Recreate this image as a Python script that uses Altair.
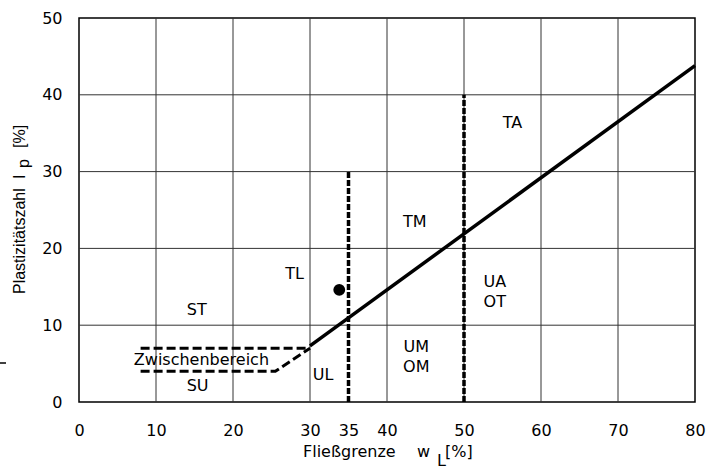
import altair as alt
import pandas as pd

# axis ticks / grid
x_ticks = [0, 10, 20, 30, 35, 40, 50, 60, 70, 80]
y_ticks = [0, 10, 20, 30, 40, 50]
grid_x = [10, 20, 30, 40, 50, 60, 70]
grid_y = [10, 20, 30, 40]

# A-line (solid)
a_x = [30, 80]
a_y = [7.3, 43.8]

# dashed boundaries
seg_id = ["up", "up", "low", "low", "low"]
seg_x = [8, 30, 8, 25.5, 30]
seg_y = [7.0, 7.0, 4.0, 4.0, 7.0]

vert_id = ["v35", "v35", "v50", "v50"]
vert_x = [35, 35, 50, 50]
vert_y = [0, 30, 0, 40]

# sample point
pt_x = [33.8]
pt_y = [14.6]

# region labels (centered)
lab_text = ["ST", "Zwischenbereich", "SU", "UL", "TL", "TM", "UM", "OM", "TA", "UA", "OT"]
lab_x = [15.3, 15.9, 15.4, 31.7, 28.0, 43.6, 43.8, 43.8, 56.3, 54.0, 54.0]
lab_y = [12.0, 5.5, 2.1, 3.5, 16.7, 23.4, 7.2, 4.5, 36.3, 15.6, 13.0]

FONT = "DejaVu Sans"

X = alt.X("x:Q", scale=alt.Scale(domain=[0, 80], nice=False, zero=False),
          axis=alt.Axis(values=x_ticks, grid=False, domain=False, ticks=False,
                        labelFont=FONT, labelFontSize=16, labelColor="black",
                        labelPadding=20, title=None, labelFlush=False))
Y = alt.Y("y:Q", scale=alt.Scale(domain=[0, 50], nice=False, zero=False),
          axis=alt.Axis(values=y_ticks, grid=False, domain=False, ticks=False,
                        labelFont=FONT, labelFontSize=16, labelColor="black",
                        labelPadding=17, title=None, labelFlush=False))

gx = alt.Chart(pd.DataFrame({"x": grid_x})).mark_rule(color="#333", strokeWidth=1).encode(x=X)
gy = alt.Chart(pd.DataFrame({"y": grid_y})).mark_rule(color="#333", strokeWidth=1).encode(y=Y)

aline = alt.Chart(pd.DataFrame({"x": a_x, "y": a_y})).mark_line(
    color="black", strokeWidth=3.5).encode(x=X, y=Y)

segs = alt.Chart(pd.DataFrame({"g": seg_id, "x": seg_x, "y": seg_y, "o": list(range(len(seg_x)))})).mark_line(
    color="black", strokeWidth=3, strokeDash=[9, 4]).encode(x=X, y=Y, detail="g:N", order="o:Q")

verts = alt.Chart(pd.DataFrame({"g": vert_id, "x": vert_x, "y": vert_y})).mark_line(
    color="black", strokeWidth=3.5, strokeDash=[6, 2]).encode(x=X, y=Y, detail="g:N")

point = alt.Chart(pd.DataFrame({"x": pt_x, "y": pt_y})).mark_point(
    filled=True, color="black", size=140, opacity=1, shape="circle").encode(x=X, y=Y)

labels = alt.Chart(pd.DataFrame({"x": lab_x, "y": lab_y, "t": lab_text})).mark_text(
    font=FONT, fontSize=16, color="black", align="center", baseline="middle").encode(
    x=X, y=Y, text="t:N")

def txt(s, x, y, size=16, font=FONT, angle=0):
    return alt.Chart(pd.DataFrame({"t": [s]})).mark_text(
        font=font, fontSize=size, color="black", align="left",
        baseline="alphabetic", angle=angle).encode(
        text="t:N", x=alt.value(x), y=alt.value(y))

xt1 = txt("Fließgrenze", 224, 439)
xt2 = txt("w", 338, 439)
xt3 = txt("L", 358, 448)
xt4 = txt("[%]", 366, 439)

yt1 = txt("Plastizitätszahl", -54, 276, size=16, font="Liberation Sans", angle=270)
yt2 = txt("I", -54, 161, size=16, font="Liberation Sans", angle=270)
yt3 = txt("p", -50, 150, size=16, font="Liberation Sans", angle=270)
yt4 = txt("[%]", -54, 130, size=16, font="Liberation Sans", angle=270)

dash_mark = alt.Chart(pd.DataFrame({"t": [0]})).mark_rule(color="black", strokeWidth=1.5).encode(
    x=alt.value(-79), x2=alt.value(-73), y=alt.value(345))

chart = alt.layer(
    gx, gy, aline, segs, verts, point, labels,
    xt1, xt2, xt3, xt4, yt1, yt2, yt3, yt4, dash_mark
).properties(
    width=616, height=384,
    padding={"left": 79, "top": 18, "right": 17, "bottom": 70},
    autosize=alt.AutoSizeParams(type="none"),
    background="white",
).configure_view(stroke="black", strokeWidth=1.5)

chart.save("out.html", embed_options={"renderer": "svg", "actions": False})
